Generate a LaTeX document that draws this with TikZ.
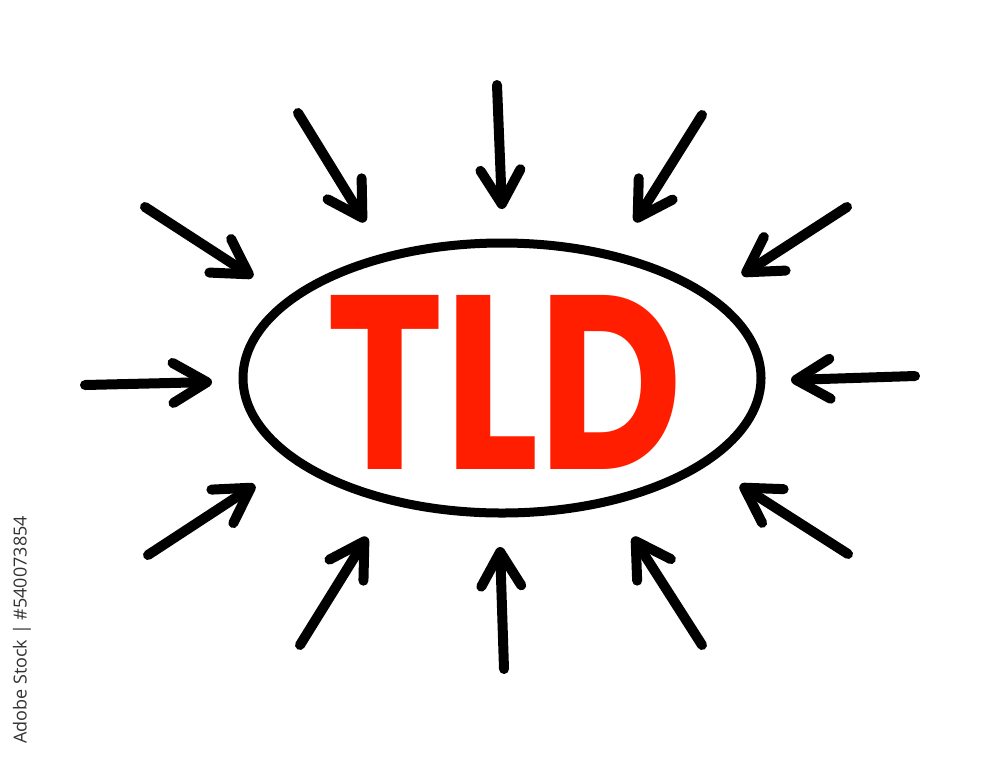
\documentclass[tikz,border=0pt]{standalone}
\usepackage{fontspec}
\setmainfont{Open Sans}
\newfontfamily\tldfont{Poppins}
\usetikzlibrary{arrows.meta,shapes.geometric}
\definecolor{tldred}{HTML}{FF1E00}

\begin{document}
\begin{tikzpicture}[x=0.5pt,y=-0.5pt,
  inarrow/.style={line width=5pt,line cap=round,line join=round,
    -{Straight Barb[length=17pt,width=20pt,line cap=round,line join=round]}}]
  % white page, same size as the reference
  \fill[white] (0,0) rectangle (1000,756);
  \useasboundingbox (0,0) rectangle (1000,756);

  % the oval and the word inside it
  \node[draw,ellipse,line width=4.5pt,inner sep=0pt,
    minimum width=259pt,minimum height=135pt] (oval) at (502,378) {};
  \node[text=tldred,font=\tldfont\bfseries\fontsize{124}{124}\selectfont,
    xscale=0.8] (tld) at (505,382) {TLD};

  % twelve arrows pointing in at the oval
  \foreach \name/\tx/\ty/\hx/\hy in {
      n/497/85/502/209, nnw/298/113/365/222, wnw/145/207/253/277,
      w/85/385/212/382, nne/702/115/635/222, ene/847/207/742/275,
      e/915/376/791/380, wsw/148/555/255/485, ssw/300/645/367/537,
      s/504/669/500/547, sse/702/645/633/537, ese/848/554/740/485} {
    \coordinate (tail-\name) at (\tx,\ty);
    \coordinate (tip-\name) at (\hx,\hy);
    \draw[inarrow] (tail-\name) -- (tip-\name);
  }

  % stock number along the left edge
  \node[rotate=90,text=black!80,font=\fontsize{9}{10}\selectfont]
    (stockid) at (22,630) {Adobe Stock | \#540073854};
\end{tikzpicture}
\end{document}
